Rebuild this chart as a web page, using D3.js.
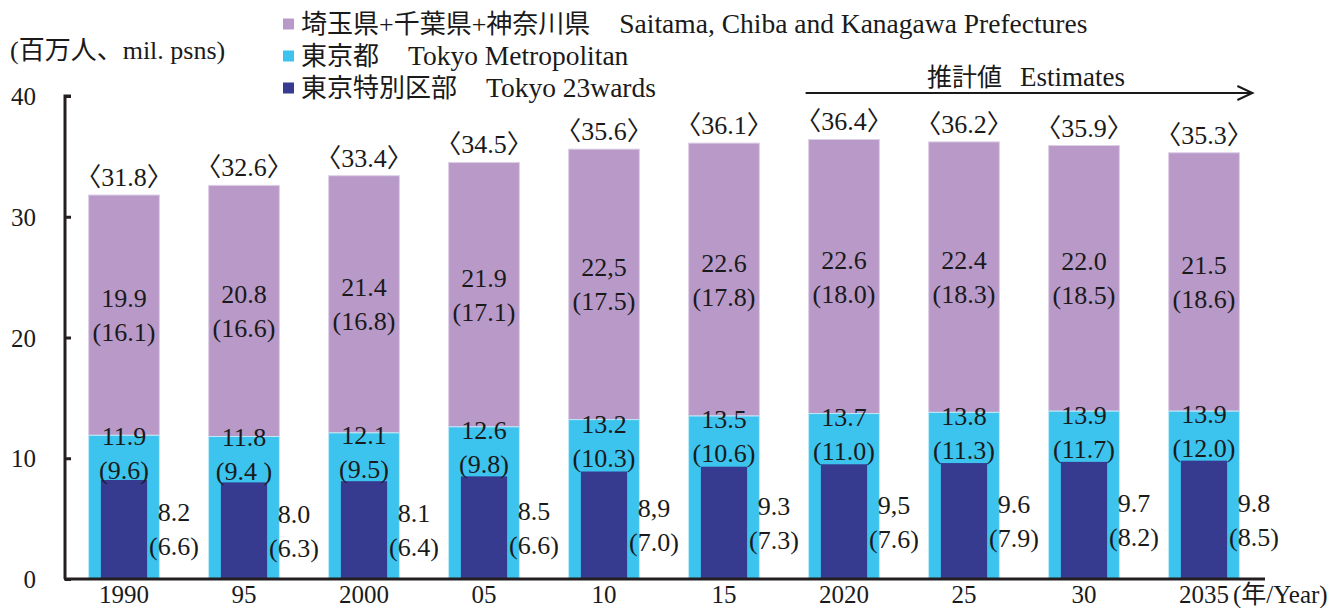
<!DOCTYPE html>
<html>
<head>
<meta charset="utf-8">
<script src="https://cdn.jsdelivr.net/npm/d3@7"></script>
<style>
  body { margin: 0; background: #fff; }
  svg text { font-family: "Liberation Serif", "Noto Sans CJK JP", serif; fill: #1a1a1a; }
</style>
</head>
<body>
<div id="chart"></div>
<script>
// values (millions of persons)
const years = ["1990", "95", "2000", "05", "10", "15", "2020", "25", "30", "2035"];
const totalVals = [31.8, 32.6, 33.4, 34.5, 35.6, 36.1, 36.4, 36.2, 35.9, 35.3];
const tokyoVals = [11.9, 11.8, 12.1, 12.6, 13.2, 13.5, 13.7, 13.8, 13.9, 13.9];
const wardsVals = [8.2, 8.0, 8.1, 8.5, 8.9, 9.3, 9.5, 9.6, 9.7, 9.8];

// label texts as printed (incl. the odd commas)
const totalLabels = ["31.8", "32.6", "33.4", "34.5", "35.6", "36.1", "36.4", "36.2", "35.9", "35.3"];
const suburbLabels = ["19.9", "20.8", "21.4", "21.9", "22,5", "22.6", "22.6", "22.4", "22.0", "21.5"];
const suburbSub = ["(16.1)", "(16.6)", "(16.8)", "(17.1)", "(17.5)", "(17.8)", "(18.0)", "(18.3)", "(18.5)", "(18.6)"];
const tokyoLabels = ["11.9", "11.8", "12.1", "12.6", "13.2", "13.5", "13.7", "13.8", "13.9", "13.9"];
const tokyoSub = ["(9.6)", "(9.4 )", "(9.5)", "(9.8)", "(10.3)", "(10.6)", "(11.0)", "(11.3)", "(11.7)", "(12.0)"];
const wardsLabels = ["8.2", "8.0", "8.1", "8.5", "8,9", "9.3", "9,5", "9.6", "9.7", "9.8"];
const wardsSub = ["(6.6)", "(6.3)", "(6.4)", "(6.6)", "(7.0)", "(7.3)", "(7.6)", "(7.9)", "(8.2)", "(8.5)"];

const yTicks = [0, 10, 20, 30, 40];
const legendItems = [
  {jp: "埼玉県+千葉県+神奈川県", en: "Saitama, Chiba and Kanagawa Prefectures", color: "#b899c8"},
  {jp: "東京都", en: "Tokyo Metropolitan", color: "#3cc3ee"},
  {jp: "東京特別区部", en: "Tokyo 23wards", color: "#363b8f"}
];

const W = 1342, H = 608;
const svg = d3.select("#chart").append("svg")
  .attr("width", W).attr("height", H);

// step of 120px per year, outer padding = half the inner one
const x = d3.scaleBand().domain(years).range([64, 1264]).paddingInner(0.41).paddingOuter(0.205);
const xIn = d3.scaleBand().domain(years).range([64, 1264]).paddingInner(0.615).paddingOuter(0.3075);
const y = d3.scaleLinear().domain([0, 40]).range([579, 96]);

const rows = years.map((yr, i) => ({
  yr, total: totalVals[i], tokyo: tokyoVals[i], wards: wardsVals[i], i
}));

// purple: suburb part on top of Tokyo
svg.selectAll("rect.sub").data(rows).join("rect")
  .attr("class", "sub")
  .attr("x", d => x(d.yr)).attr("width", x.bandwidth())
  .attr("y", d => y(d.total)).attr("height", d => y(d.tokyo) - y(d.total))
  .attr("fill", "#b899c8").attr("stroke", "#ddd0e6").attr("stroke-width", 1);

// cyan: Tokyo Metropolitan
svg.selectAll("rect.tok").data(rows).join("rect")
  .attr("class", "tok")
  .attr("x", d => x(d.yr)).attr("width", x.bandwidth())
  .attr("y", d => y(d.tokyo)).attr("height", d => y(0) - y(d.tokyo))
  .attr("fill", "#3cc3ee").attr("stroke", "#bfe9f8").attr("stroke-width", 1);

// dark blue: 23 wards (narrower)
svg.selectAll("rect.war").data(rows).join("rect")
  .attr("class", "war")
  .attr("x", d => xIn(d.yr)).attr("width", xIn.bandwidth())
  .attr("y", d => y(d.wards)).attr("height", d => y(0) - y(d.wards))
  .attr("fill", "#363b8f");

const fs = 26;
const cx = d => x(d.yr) + x.bandwidth() / 2;

// totals above bars
svg.selectAll("text.tot").data(rows).join("text")
  .attr("class", "tot")
  .attr("x", cx).attr("y", d => y(d.total) - 9)
  .attr("text-anchor", "middle").attr("font-size", fs)
  .text(d => "〈" + totalLabels[d.i] + "〉");

function twoLine(cls, xf, midf, l1, l2) {
  const g = svg.selectAll("g." + cls).data(rows).join("g").attr("class", cls);
  g.append("text").attr("x", xf).attr("y", d => midf(d) - 17 + 9)
    .attr("text-anchor", "middle").attr("font-size", fs).text(d => l1[d.i]);
  g.append("text").attr("x", xf).attr("y", d => midf(d) + 17 + 9)
    .attr("text-anchor", "middle").attr("font-size", fs).text(d => l2[d.i]);
}

twoLine("lsub", cx, d => (y(d.total) + y(d.tokyo)) / 2, suburbLabels, suburbSub);
twoLine("ltok", cx, d => (y(d.tokyo) + y(d.wards)) / 2 - 5, tokyoLabels, tokyoSub);
twoLine("lwar", d => cx(d) + 50, d => (y(d.wards) + y(0)) / 2, wardsLabels, wardsSub);

// axes
const axisColor = "#231f20";
const yAxis = svg.append("g").attr("transform", "translate(65,0)")
  .call(d3.axisRight(y).tickValues(yTicks).tickSize(6).tickFormat(""));
yAxis.select(".domain").attr("stroke", axisColor).attr("stroke-width", 3).attr("d", "M6," + y(40) + "H0V" + y(0));
yAxis.selectAll(".tick line").attr("stroke", axisColor).attr("stroke-width", 3);

svg.selectAll("text.ytl").data(yTicks).join("text")
  .attr("class", "ytl")
  .attr("x", 36).attr("y", d => y(d) + 9)
  .attr("text-anchor", "end").attr("font-size", 25)
  .text(d => d);

const xAxis = svg.append("g").attr("transform", "translate(0," + y(0) + ")")
  .call(d3.axisBottom(x).tickSize(0).tickPadding(0).tickFormat(""));
xAxis.select(".domain").attr("stroke", axisColor).attr("stroke-width", 3).attr("d", "M64,0H1265");

svg.selectAll("text.xtl").data(years).join("text")
  .attr("class", "xtl")
  .attr("x", d => x(d) + x.bandwidth() / 2).attr("y", 603)
  .attr("text-anchor", "middle").attr("font-size", 25)
  .text(d => d);

svg.append("text").attr("x", 1233).attr("y", 603).attr("font-size", 25).text("(年/Year)");

// y unit
svg.append("text").attr("x", 10).attr("y", 59).attr("font-size", 26).text("(百万人、mil. psns)");

// legend
const lg = svg.selectAll("g.leg").data(legendItems).join("g")
  .attr("class", "leg")
  .attr("transform", (d, i) => "translate(283," + (24 + i * 32) + ")");
lg.append("rect").attr("x", 0).attr("y", -5.5).attr("width", 11).attr("height", 11).attr("fill", d => d.color);
const lt = lg.append("text").attr("x", 18).attr("y", 9).attr("font-size", 26);
lt.append("tspan").text(d => d.jp);
lt.append("tspan").attr("dx", 29).attr("font-size", 27.5).text(d => d.en);

// estimates arrow
const ax0 = x("2020") - 3, ax1 = x("2035") + x.bandwidth() + 13;
svg.append("line").attr("x1", ax0).attr("x2", ax1).attr("y1", 93).attr("y2", 93)
  .attr("stroke", "#1a1a1a").attr("stroke-width", 2);
svg.append("path").attr("d", "M" + (ax1 - 15) + ",86L" + ax1 + ",93L" + (ax1 - 15) + ",100")
  .attr("fill", "none").attr("stroke", "#1a1a1a").attr("stroke-width", 2);
const est = svg.append("text").attr("x", 927).attr("y", 86).attr("font-size", 25);
est.append("tspan").text("推計値");
est.append("tspan").attr("dx", 18).attr("font-size", 27).text("Estimates");
</script>
</body>
</html>
